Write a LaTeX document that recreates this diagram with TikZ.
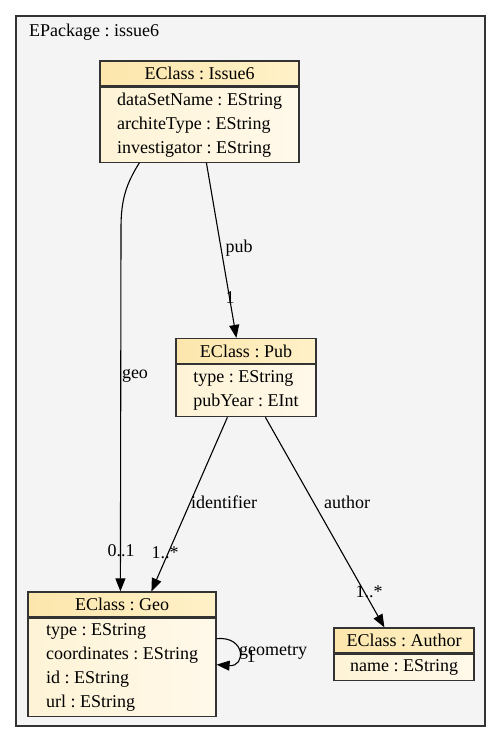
\documentclass[tikz,border=0pt]{standalone}
\usepackage{fontspec}
\setmainfont{Liberation Serif}
\usepackage{xcolor}
\usepackage{tikz}
\usetikzlibrary{
	arrows.meta,
	positioning
}
\definecolor{pkgback}{HTML}{F4F4F4}
\definecolor{headleft}{HTML}{FCE6AC}
\definecolor{headright}{HTML}{FFF1C8}
\definecolor{bodyleft}{HTML}{FEF3D6}
\definecolor{bodyright}{HTML}{FFF9EA}
\definecolor{boxline}{HTML}{333333}
\frenchspacing

\begin{document}
\begin{tikzpicture}[x=1pt, y=-1pt,
		font=\fontsize{18}{24}\selectfont,
		classhead/.style={draw=boxline, line width=1.2pt, left color=headleft, right color=headright,
			minimum height=25pt, inner sep=0pt},
		classbody/.style={draw=boxline, line width=1.2pt, left color=bodyleft, right color=bodyright,
			inner sep=0pt, align=left, anchor=north},
		edge/.style={line width=1.1pt, -{Triangle[length=13pt, width=10pt]}},
		elabel/.style={inner sep=0pt}]
		\useasboundingbox (0,0) rectangle (501,743);
		\fill[white] (0,0) rectangle (501,743);
		\draw[draw=boxline, line width=1.2pt, fill=pkgback] (16,16) rectangle (485,726);
		\node[elabel, anchor=west] (pkg) at (29,32) {EPackage : issue6};
		% classes
		\node[classhead, minimum width=199pt] (issue6h) at (199.5,73.5) {EClass : Issue6};
		\node[classbody, minimum width=199pt, minimum height=75pt] (issue6b) at (issue6h.south)
			{dataSetName : EString\\architeType : EString\\investigator : EString};
		\node[classhead, minimum width=140pt] (pubh) at (246,351) {EClass : Pub};
		\node[classbody, minimum width=140pt, minimum height=52pt] (pubb) at (pubh.south)
			{type : EString\\pubYear : EInt};
		\node[classhead, minimum width=188pt] (geoh) at (122,604.5) {EClass : Geo};
		\node[classbody, minimum width=188pt, minimum height=98pt] (geob) at (geoh.south)
			{type : EString\\coordinates : EString\\id : EString\\url : EString};
		\node[classhead, minimum width=140pt] (authorh) at (404,640.5) {EClass : Author};
		\node[classbody, minimum width=140pt, minimum height=26pt] (authorb) at (authorh.south)
			{name : EString};
		% references
		\draw[edge] ([xshift=40pt]issue6b.south west) .. controls (126,184) and (121,200) .. (121,228)
			-- ([xshift=93pt]geoh.north west);
		\draw[edge] ([xshift=107pt]issue6b.south west) -- ([xshift=61pt]pubh.north west);
		\draw[edge] ([xshift=52pt]pubb.south west) -- ([xshift=124pt]geoh.north west);
		\draw[edge] ([xshift=90pt]pubb.south west) -- ([xshift=51pt]authorh.north west);
		\draw[edge] ([yshift=-21pt]geob.north east) .. controls (246,636) and (246,667)
			.. ([yshift=-47pt]geob.north east);
		% labels
		\node[elabel] (geolab) at (135,376) {geo};
		\node[elabel] (geomult) at (121,551) {0..1};
		\node[elabel] (publab) at (239,248) {pub};
		\node[elabel] (pubmult) at (230,298) {1};
		\node[elabel] (identlab) at (224,502) {identifier};
		\node[elabel] (identmult) at (165,553) {1..*};
		\node[elabel] (authorlab) at (347,502) {author};
		\node[elabel] (authormult) at (369,592) {1..*};
		\node[elabel] (geomlab) at (273,652) {geometry};
		\node[elabel] (geommult) at (251,657) {1};
	\end{tikzpicture}
\end{document}
